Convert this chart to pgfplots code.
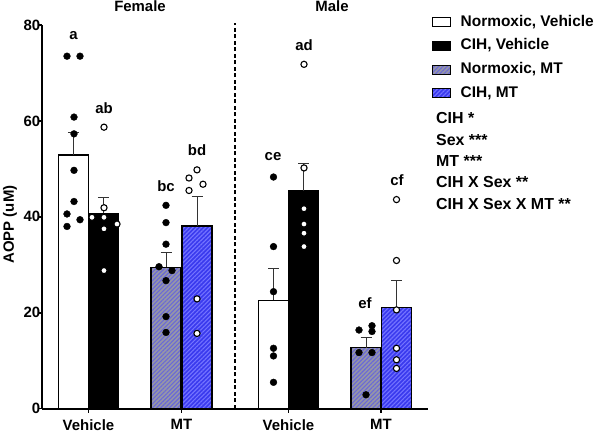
\documentclass[border=0pt]{standalone}
\usepackage{fontspec}
\setmainfont{Liberation Sans}
\usepackage{pgfplots}
\pgfplotsset{compat=1.18}
\usetikzlibrary{patterns.meta}
\definecolor{nmfill}{RGB}{150,150,168}
\definecolor{nmline}{RGB}{105,105,215}
\definecolor{cmfill}{RGB}{58,58,238}
\definecolor{cmline}{RGB}{115,115,255}
\newcommand{\lf}{\fontsize{15.5}{18}\selectfont\bfseries}
\pgfplotsset{
  mybar/.style={ybar, bar width=30, bar shift=0pt, draw=black, line width=1.3bp,
    error bars/y dir=plus, error bars/y explicit,
    error bars/error bar style={line width=1bp, black!80},
    error bars/error mark options={line width=1bp, black!80, mark size=5.5bp, rotate=90},
    legend image code/.code={\draw[##1, line width=1bp] (3bp,-4.5bp) rectangle (21bp,4.5bp);}},
  blackdot/.style={only marks, mark=*, mark size=3.4bp, mark options={fill=black, draw=black}, forget plot},
  whitedot/.style={only marks, mark=*, mark size=3.1bp, mark options={fill=white, draw=black, line width=1.1bp}, forget plot},
}
\begin{document}
\fontsize{15}{18}\selectfont\bfseries
\begin{tikzpicture}
\useasboundingbox (0,0) rectangle (597bp,433bp);
\begin{axis}[
  at={(42bp,24.3bp)}, anchor=south west,
  scale only axis, width=386bp, height=383.7bp,
  xmin=42, xmax=428, ymin=0, ymax=80,
  axis lines*=left,
  axis line style={line width=1.8bp},
  clip=false,
  ytick={0,20,40,60,80},
  xtick={88.5,181.5,288.5,381},
  xticklabels={Vehicle,MT,Vehicle,MT},
  tick align=outside,
  major tick length=4bp,
  tick style={line width=1.5bp, black},
  /pgf/number format/assume math mode=true,
  ticklabel style={font=\fontsize{15}{18}\selectfont\bfseries},
  yticklabel style={inner sep=0pt, anchor=east, xshift=2.5bp},
  xticklabel style={inner sep=0pt, anchor=north, yshift=-6.5bp},
  ylabel={AOPP (uM)},
  every axis y label/.style={at={(axis description cs:0,0.48)}, xshift=-32bp, rotate=90, anchor=center, font=\fontsize{15}{18}\selectfont\bfseries},
  legend style={draw=none, fill=none, at={(axis cs:432,82.5)}, anchor=north west,
    inner sep=0pt, row sep=5.7bp, column sep=7.5bp,
    font=\lf,
    nodes={text height=11bp, text depth=3bp, inner sep=2bp, font=\lf}},
  legend cell align=left,
]
% bars
\addplot[mybar, fill=white] coordinates {(73.5,52.9) +- (0,4.7) (273.5,22.6) +- (0,6.6)};
\addlegendentry{\lf Normoxic, Vehicle}
\addplot[mybar, fill=black] coordinates {(103.5,40.7) +- (0,3.3) (303.5,45.4) +- (0,5.7)};
\addlegendentry{\lf CIH, Vehicle}
\addplot[mybar, fill=nmfill, postaction={pattern={Lines[angle=45,distance=3bp,line width=1.1bp]}, pattern color=nmline}] coordinates {(166,29.5) +- (0,3.1) (366,12.7) +- (0,2.2)};
\addlegendentry{\lf Normoxic, MT}
\addplot[mybar, fill=cmfill, postaction={pattern={Lines[angle=45,distance=3bp,line width=1.1bp]}, pattern color=cmline}] coordinates {(197,38.1) +- (0,6.2) (396.5,21.05) +- (0,5.65)};
\addlegendentry{\lf CIH, MT}
% individual points
\addplot[blackdot] coordinates {(67,73.5) (80,73.5) (74,60.8) (74,57.3) (74,49.7) (74,43.2) (67,40.6) (80,39.4) (67,38.0)};
\addplot[blackdot] coordinates {(273.5,48.3) (273.5,33.8) (273.5,24.4) (273.5,12.6) (273.5,11.0) (273.5,5.5)};
\addplot[blackdot] coordinates {(166,42.4) (166,38.8) (166,34.3) (159,29.6) (172,28.8) (166,26.7) (166,19.2) (166,15.9)};
\addplot[blackdot] coordinates {(359,16.4) (372,17.3) (372,16.1) (359,11.7) (372,11.7) (366,2.9)};
\addplot[whitedot] coordinates {(104,58.7) (104,41.9) (92,39.9) (104,39.9) (117,38.5) (104,37.5) (104,28.8)};
\addplot[whitedot] coordinates {(304,71.8) (304,50.2) (304,41.7) (304,38.5) (304,36.6) (304,33.8)};
\addplot[whitedot] coordinates {(197,49.8) (189,48.1) (203,46.8) (189,45.5) (197,22.9) (197,15.7)};
\addplot[whitedot] coordinates {(396.5,43.6) (396.5,30.9) (396.5,20.6) (396.5,12.6) (396.5,10.2) (396.5,8.4)};
% separator
\draw[line width=1.3bp, dash pattern=on 4bp off 2.5bp] (axis cs:235,0) -- (axis cs:235,80.5);
% titles
\node at (axis cs:140,84.0) {Female};
\node at (axis cs:332,84.0) {Male};
% letters
\node at (axis cs:73.5,77.7) {a};
\node at (axis cs:104,62.6) {ab};
\node at (axis cs:166,46.3) {bc};
\node at (axis cs:197,54.0) {bd};
\node at (axis cs:273,52.6) {ce};
\node at (axis cs:304,75.9) {ad};
\node at (axis cs:365,22.1) {ef};
\node at (axis cs:397,47.7) {cf};
% statistics
\begin{scope}[every node/.style={anchor=west, inner sep=0pt, font=\fontsize{16}{18}\selectfont\bfseries}]
\node at (axis cs:436,60.6) {CIH *};
\node at (axis cs:436,56.0) {Sex ***};
\node at (axis cs:436,51.6) {MT ***};
\node at (axis cs:436,47.3) {CIH X Sex **};
\node at (axis cs:436,42.7) {CIH X Sex X MT **};
\end{scope}
\end{axis}
\end{tikzpicture}
\end{document}
